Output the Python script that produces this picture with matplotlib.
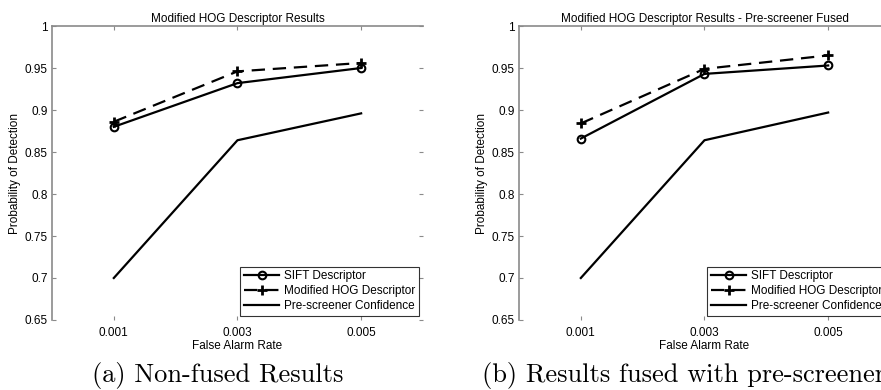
import matplotlib.pyplot as plt

# Datos
far = [0.001, 0.003, 0.005]
xtick_labels = ['0.001', '0.003', '0.005']
yticks = [0.65, 0.7, 0.75, 0.8, 0.85, 0.9, 0.95, 1.0]
ytick_labels = ['0.65', '0.7', '0.75', '0.8', '0.85', '0.9', '0.95', '1']

sift_a = [0.880, 0.932, 0.950]
hog_a = [0.886, 0.946, 0.956]
pre_a = [0.700, 0.864, 0.896]

sift_b = [0.866, 0.943, 0.953]
hog_b = [0.884, 0.949, 0.965]
pre_b = [0.700, 0.864, 0.897]

titulos = ['Modified HOG Descriptor Results',
           'Modified HOG Descriptor Results - Pre-screener Fused']
leyendas = ['SIFT Descriptor', 'Modified HOG Descriptor', 'Pre-screener Confidence']
subtitulos = ['(a) Non-fused Results', '(b) Results fused with pre-screener']

plt.rcParams['font.family'] = ['Liberation Sans', 'DejaVu Sans']
gris = '#8a8a8a'
fs = 8.5

fig = plt.figure(figsize=(8.81, 3.90), dpi=100)
posiciones = [[0.059, 0.1795, 0.4211, 0.7538], [0.5891, 0.1795, 0.4211, 0.7538]]
series = [(sift_a, hog_a, pre_a), (sift_b, hog_b, pre_b)]

for pos, titulo, (sift, hog, pre) in zip(posiciones, titulos, series):
    ax = fig.add_axes(pos)
    ax.plot(far, sift, color='black', lw=1.6, marker='o', ms=5.5,
            mfc='none', mew=1.5, label=leyendas[0])
    ax.plot(far, hog, color='black', lw=1.6, dashes=(6, 3.5), marker='+',
            ms=7, mew=2, label=leyendas[1])
    ax.plot(far, pre, color='black', lw=1.6, label=leyendas[2])

    ax.set_xlim(0, 0.006)
    ax.set_ylim(0.65, 1.0)
    ax.set_xticks(far)
    ax.set_xticklabels(xtick_labels)
    ax.set_yticks(yticks)
    ax.set_yticklabels(ytick_labels)
    ax.tick_params(direction='in', length=3, width=0.8, color=gris,
                   labelsize=fs, top=True, right=True)
    ax.tick_params(axis='y', pad=3)
    ax.tick_params(axis='x', pad=5)
    for lado in ['bottom', 'right']:
        ax.spines[lado].set_visible(False)
    for lado in ['top', 'left']:
        ax.spines[lado].set_color(gris)
        ax.spines[lado].set_linewidth(1.2)

    ax.set_title(titulo, fontsize=fs, pad=3)
    ax.set_xlabel('False Alarm Rate', fontsize=fs, labelpad=1)
    ax.set_ylabel('Probability of Detection', fontsize=fs, labelpad=3)

    leg = ax.legend(loc='lower right', fontsize=fs, frameon=True, fancybox=False,
                    edgecolor='black', handlelength=3.0, borderpad=0.3,
                    labelspacing=0.25, handletextpad=0.4, borderaxespad=0.35)
    leg.get_frame().set_linewidth(0.8)

# Subtítulos de cada panel
fig.text(0.247, 0.038, subtitulos[0], family='cmr10', fontsize=19,
         ha='center', va='center')
fig.text(0.547, 0.038, subtitulos[1], family='cmr10', fontsize=19,
         ha='left', va='center')

fig.savefig('out.png', dpi=100)
